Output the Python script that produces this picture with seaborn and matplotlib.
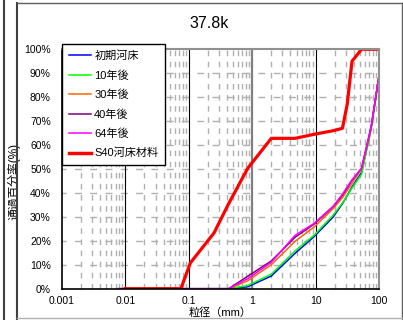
import pandas as pd
import seaborn as sns
import matplotlib.pyplot as plt
from matplotlib.lines import Line2D
from matplotlib.ticker import FixedLocator, FuncFormatter, NullFormatter

# sieve sizes (mm) for the recent bed samples
sizes = [0.0077, 0.075, 0.25, 0.425, 0.85, 2, 4.75, 9.5, 19, 26.5, 37.5, 53, 75, 100]
initial = [0, 0, 0, 0, 0.8, 5.3, 14.8, 21.8, 30.0, 35.5, 42.5, 48.5, 67.0, 89.0]
after10 = [0, 0, 0, 0, 1.3, 6.1, 15.8, 22.4, 30.8, 35.8, 42.0, 47.8, 66.5, 89.0]
after30 = [0, 0, 0, 0, 3.3, 10.0, 19.8, 25.8, 33.5, 38.0, 44.0, 50.0, 67.0, 89.0]
after40 = [0, 0, 0, 0, 5.2, 11.6, 21.5, 27.0, 34.3, 39.0, 45.2, 50.3, 67.5, 89.0]
after64 = [0, 0, 0, 0, 4.2, 11.0, 22.3, 27.3, 34.5, 39.5, 45.5, 50.3, 67.5, 89.0]

# S40 bed material
s40_sizes = [0.01, 0.075, 0.106, 0.25, 0.425, 0.85, 2, 4.75, 9.5, 19, 26.5, 31.5, 37.5, 53, 75, 100]
s40 = [0, 0, 10.8, 23.3, 35.5, 50.3, 62.8, 62.8, 64.5, 66.0, 67.0, 77.0, 95.0, 100, 100, 100]

names = ["初期河床", "10年後", "30年後", "40年後", "64年後"]
colors = ["#0000FF", "#00FF00", "#FF6600", "#800080", "#FF00FF"]
s40_name = "S40河床材料"
s40_color = "#FF0000"

x_ticks = [0.001, 0.01, 0.1, 1, 10, 100]
x_ticklabels = ["0.001", "0.01", "0.1", "1", "10", "100"]

jp = ["Liberation Sans", "Noto Sans CJK JP"]
plt.rcParams["font.family"] = jp

rows = []
for name, vals in zip(names, [initial, after10, after30, after40, after64]):
    for s, v in zip(sizes, vals):
        rows.append({"size": s, "pct": v, "series": name})
df = pd.DataFrame(rows)
df_s40 = pd.DataFrame({"size": s40_sizes, "pct": s40, "series": s40_name})

fig = plt.figure(figsize=(4.03, 3.2), dpi=100)
ax = fig.add_axes([0.1538, 0.0978, 0.7867, 0.7482])
ax.set_xscale("log")

sns.lineplot(data=df, x="size", y="pct", hue="series", hue_order=names,
             palette=dict(zip(names, colors)), estimator=None, sort=False,
             linewidth=1.1, ax=ax, legend=False)
sns.lineplot(data=df_s40, x="size", y="pct", color=s40_color, estimator=None,
             sort=False, linewidth=2.3, ax=ax, legend=False)

ax.set_xlim(0.001, 100)
ax.set_ylim(0, 100)

# grid
ax.xaxis.set_major_locator(FixedLocator(x_ticks))
ax.set_xticklabels(x_ticklabels)
minor = [m * 10.0 ** e for e in range(-3, 2) for m in range(2, 10)]
ax.xaxis.set_minor_locator(FixedLocator(minor))
ax.xaxis.set_minor_formatter(NullFormatter())
ax.set_yticks(range(0, 101, 10))
ax.yaxis.set_major_formatter(FuncFormatter(lambda v, p: f"{int(v)}%"))
ax.tick_params(axis="both", which="both", length=0, labelsize=7.5)
ax.tick_params(axis="y", pad=8)
ax.tick_params(axis="x", pad=5)

for m in minor:
    ax.axvline(m, color="#b0b0b0", lw=1.0, ls=(0, (4, 4)), zorder=0)
for yv in range(10, 100, 10):
    ax.axhline(yv, color="#b0b0b0", lw=1.0, ls=(2, (5, 6)), zorder=0)
for xv, c, w in [(0.01, "black", 0.8), (0.1, "black", 0.8), (1, "#808080", 1.6), (10, "black", 0.8)]:
    ax.axvline(xv, color=c, lw=w, zorder=0.5)

for side in ["left", "bottom"]:
    ax.spines[side].set_color("black")
    ax.spines[side].set_linewidth(1.2)
for side in ["top", "right"]:
    ax.spines[side].set_color("#909090")
    ax.spines[side].set_linewidth(1.5)

ax.set_xlabel("粒径（mm）", fontsize=8)
ax.xaxis.set_label_coords(0.5, -0.078)
ax.set_ylabel("通過百分率(%)", fontsize=8.5)
ax.yaxis.set_label_coords(-0.13, 0.45)

fig.text(0.519, 0.925, "37.8k", ha="center", va="center", fontsize=11.5)

handles = [Line2D([], [], color=c, lw=1.1) for c in colors]
handles.append(Line2D([], [], color=s40_color, lw=2.5))
leg = ax.legend(handles, names + [s40_name], loc="upper left",
                bbox_to_anchor=(0.0, 1.022), fontsize=8, frameon=True,
                fancybox=False, edgecolor="black", framealpha=1,
                handlelength=2.0, handletextpad=0.3, labelspacing=0.8,
                borderpad=0.6, borderaxespad=0)
leg.get_frame().set_linewidth(1.0)

# outer chart frame
fig.add_artist(Line2D([0.041, 0.041], [0.0, 0.99], color="#404040", lw=1.5))
fig.add_artist(Line2D([0.041, 0.997], [0.99, 0.99], color="#606060", lw=1.0))
fig.add_artist(Line2D([0.997, 0.997], [0.0, 0.99], color="#606060", lw=1.0))
fig.add_artist(Line2D([0.041, 0.997], [0.006, 0.006], color="#b0b0b0", lw=1.0))
fig.add_artist(Line2D([0.009, 0.009], [0.0, 1.0], color="#404040", lw=1.5))

fig.savefig("out.png", dpi=100)
